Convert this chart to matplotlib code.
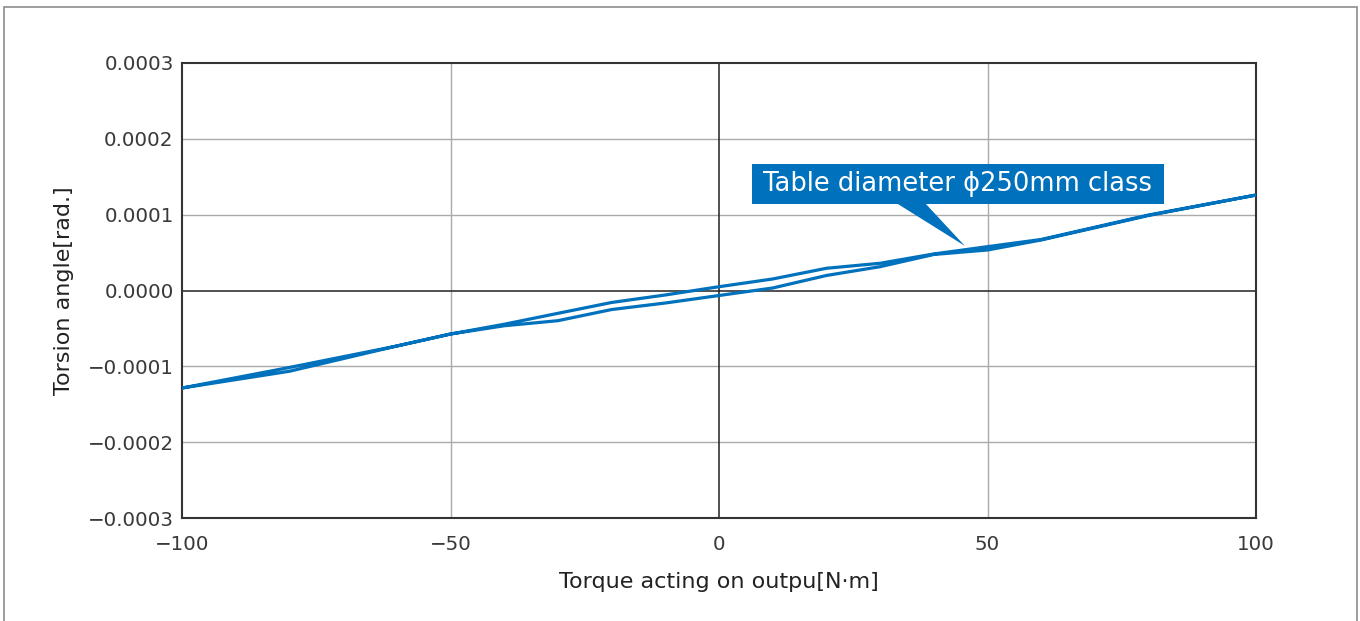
import numpy as np
import matplotlib.pyplot as plt
from matplotlib.patches import Rectangle, Polygon

plt.rcParams['font.family'] = ['DejaVu Sans']

# Data (torque N·m vs torsion angle rad)
torque = [-100, -80, -60, -50, -40, -30, -20, -10, 0, 10, 20, 30, 40, 50, 60, 80, 100]
angle_lower = [-0.0001286, -0.0001065, -0.0000732, -0.0000574, -0.0000465, -0.0000398,
               -0.0000251, -0.0000165, -0.0000066, 0.0000033, 0.0000198, 0.0000314,
               0.0000475, 0.0000534, 0.0000666, 0.0000989, 0.0001259]
angle_upper = [-0.0001286, -0.0001015, -0.0000732, -0.0000574, -0.0000445, -0.0000301,
               -0.0000158, -0.0000059, 0.0000050, 0.0000152, 0.0000293, 0.0000359,
               0.0000482, 0.0000578, 0.0000673, 0.0000996, 0.0001259]
xticks = [-100, -50, 0, 50, 100]
yticks = [-0.0003, -0.0002, -0.0001, 0.0, 0.0001, 0.0002, 0.0003]
label_text = 'Table diameter \u03d5250mm class'

BLUE = '#0071bc'

fig = plt.figure(figsize=(13.6, 6.21), dpi=100)
ax = fig.add_axes([182 / 1360, 1 - 518 / 621, 1074 / 1360, 455 / 621])

# outer frame
fig.patches.append(Rectangle((4 / 1360, -0.02), 1353 / 1360, 1 - 7 / 621 + 0.02,
                             transform=fig.transFigure, fill=False,
                             edgecolor='#8c8c8c', linewidth=1.2))

# hysteresis loop: forward then back
xs = torque + torque[::-1]
ys = angle_lower + angle_upper[::-1]
ax.plot(xs, ys, color=BLUE, linewidth=2.3, solid_joinstyle='round', zorder=3)

ax.set_xlim(-100, 100)
ax.set_ylim(-0.0003, 0.0003)
ax.set_xticks(xticks)
ax.set_yticks(yticks)
ax.set_xticklabels([str(t).replace('-', '\u2212') for t in xticks])
ax.set_yticklabels([f'{t:.4f}'.replace('-', '\u2212') for t in yticks])
ax.tick_params(length=0, labelsize=14.3, labelcolor='#3a3a3a')
ax.tick_params(axis='x', pad=12)
ax.tick_params(axis='y', pad=6)

for t in [-50, 50]:
    ax.axvline(t, color='#aaaaaa', linewidth=1, zorder=1)
for t in [-0.0002, -0.0001, 0.0001, 0.0002]:
    ax.axhline(t, color='#aaaaaa', linewidth=1, zorder=1)
ax.axvline(0, color='#222222', linewidth=1.1, zorder=2)
ax.axhline(0, color='#222222', linewidth=1.1, zorder=2)

for s in ax.spines.values():
    s.set_color('#333333')
    s.set_linewidth(1.5)

ax.set_xlabel('Torque acting on outpu[N\u00b7m]', fontsize=16, color='#222222', va='center')
ax.set_ylabel('Torsion angle[rad.]', fontsize=16, color='#222222', va='center')
ax.xaxis.set_label_coords(0.5, (518 - 582) / 455)
ax.yaxis.set_label_coords((64 - 182) / 1074, 0.5)

# callout label
ax.add_patch(Rectangle((6.1, 0.0001141), 76.8, 0.0000527, facecolor=BLUE,
                       edgecolor='none', zorder=4))
ax.add_patch(Polygon([(33.1, 0.0001150), (38.4, 0.0001150), (45.8, 0.0000587)],
                     closed=True, facecolor=BLUE, edgecolor='none', zorder=4))
ax.text(44.5, 0.0001404, label_text, color='white', fontsize=18.5, ha='center',
        va='center', zorder=5)

fig.savefig('out.png', dpi=100)
